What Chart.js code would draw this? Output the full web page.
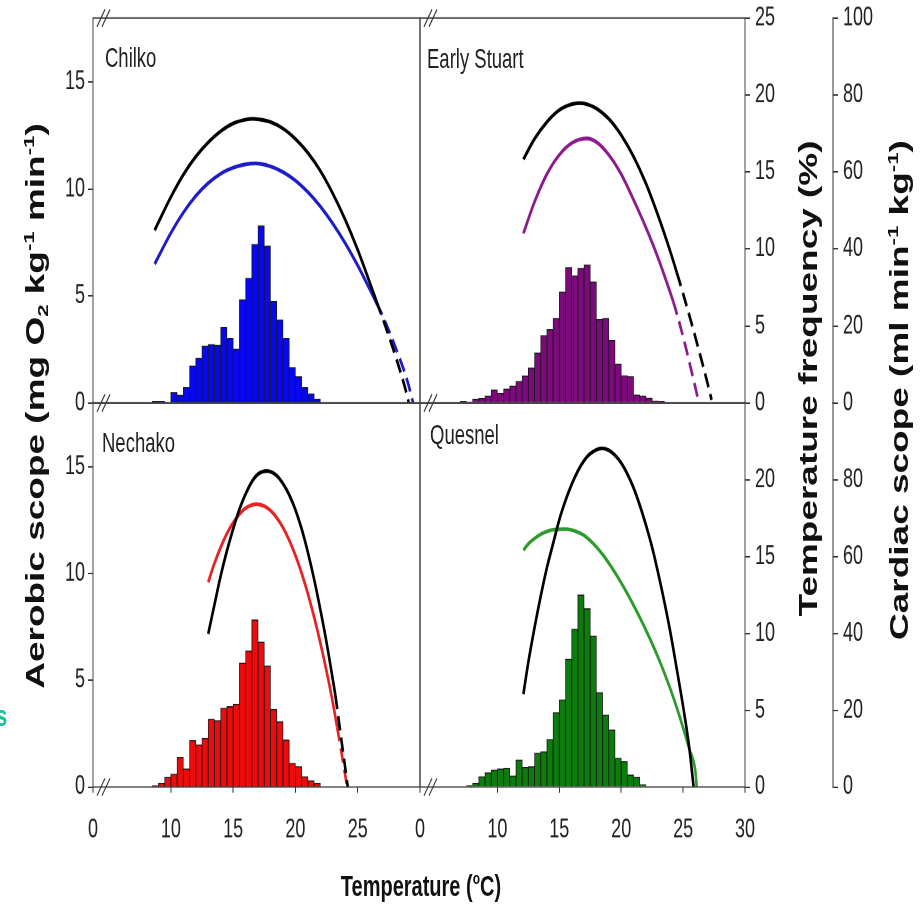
<!DOCTYPE html>
<html>
<head>
<meta charset="utf-8">
<title>Aerobic and cardiac scope vs temperature</title>
<script src="https://cdn.jsdelivr.net/npm/chart.js@4.4.1/dist/chart.umd.min.js"></script>
<style>
  html, body { margin: 0; padding: 0; background: #fff; overflow: hidden; }
  #page { position: relative; width: 924px; height: 910px; overflow: hidden; }
  /* the original figure is stretched vertically, so the whole drawing is too */
  #fig { position: absolute; left: 0; top: 0; width: 924px; height: 628px;
         transform-origin: 0 0; transform: scaleY(1.45);
         font-family: 'Liberation Sans', Arial, sans-serif; color: #111; }
  #fig canvas { position: absolute; }
  .panel-name { position: absolute; font-size: 18.5px; line-height: 1; white-space: nowrap; color: #222; }
  .axis-title { position: absolute; font-weight: bold; font-size: 25.5px; line-height: 1; white-space: nowrap;
                transform: translate(-50%, -50%) rotate(-90deg); }
  #xTitle { position: absolute; font-weight: bold; font-size: 20px; line-height: 1; white-space: nowrap;
            transform: translate(-50%, -50%); }
  sup, sub { font-size: 0.6em; line-height: 0; }
  sup { vertical-align: 0.7em; }
  sub { vertical-align: -0.25em; }
  #stray { position: absolute; left: -4px; top: 483px; font-weight: bold; font-size: 20px; color: #18c0a0; }
</style>
</head>
<body>
<div id="page">
  <div id="fig">
    <div class="panel-name" style="left:105px; top:31px">Chilko</div>
    <div class="panel-name" style="left:427px; top:32px">Early Stuart</div>
    <div class="panel-name" style="left:102px; top:297px">Nechako</div>
    <div class="panel-name" style="left:430px; top:291px">Quesnel</div>
    <div class="axis-title" style="left:36px; top:280px">Aerobic scope (mg O<sub>2</sub> kg<sup>-1</sup> min<sup>-1</sup>)</div>
    <div class="axis-title" style="left:809px; top:261px">Temperature frequency (%)</div>
    <div class="axis-title" style="left:900px; top:269px">Cardiac scope (ml min<sup>-1</sup> kg<sup>-1</sup>)</div>
    <div id="xTitle" style="left:421px; top:611px">Temperature (<sup>o</sup>C)</div>
    <div id="stray">s</div>
  </div>
</div>
<script>
const S = 1.45;

// temperature axis, broken between 0 and ~4 °C
const xMin = 3.75;
const xMax = 30;
const xBreakLabel = '0';
const xTicksLeft = [10, 15, 20, 25];
const xTicksRight = [10, 15, 20, 25, 30];
const aerobicTicks = [0, 5, 10, 15];
const freqTicksTop = [0, 5, 10, 15, 20, 25];
const freqTicksBottom = [0, 5, 10, 15, 20];
const cardiacTicksTop = [0, 20, 40, 60, 80, 100];
const cardiacTicksBottom = [0, 20, 40, 60, 80];

// Chilko
const chilkoBinT = [8.75, 9.25, 9.75, 10.25, 10.75, 11.25, 11.75, 12.25, 12.75, 13.25, 13.75, 14.25, 14.75, 15.25,
  15.75, 16.25, 16.75, 17.25, 17.75, 18.25, 18.75, 19.25, 19.75, 20.25, 20.75, 21.25, 21.75];
const chilkoFreq = [0.1, 0.1, 0, 0.67, 0.5, 1.0, 2.4, 2.9, 3.7, 3.8, 3.75, 4.9, 4.2, 3.5,
  6.7, 8.1, 10.3, 11.5, 10.2, 6.6, 5.4, 4.2, 2.3, 1.7, 1.0, 0.6, 0.25];
const chilkoAerT = [8.7, 10, 11, 12, 13, 14, 15, 16, 16.8, 18, 19, 20, 21, 22, 23, 24, 25, 26, 26.5, 27, 28, 29, 29.45];
const chilkoAer = [6.5, 7.95, 8.9, 9.68, 10.28, 10.72, 11.0, 11.16, 11.2, 11.06, 10.8, 10.4, 9.86, 9.19, 8.39, 7.47, 6.43, 5.28, 4.68, 4.07, 2.65, 1.0, 0];
const chilkoCarT = [8.7, 10, 11, 12, 13, 14, 15, 16, 16.6, 17, 18, 19, 20, 21, 22, 23, 24, 25, 26, 26.5, 27, 28, 29, 29.1];
const chilkoCar = [44.9, 53.5, 59.3, 64, 67.7, 70.6, 72.6, 73.6, 73.8, 73.7, 73.0, 71.3, 68.6, 65, 60.3, 54.4, 47.6, 39.8, 31, 26.5, 22, 12.5, 1.5, 0];

// Early Stuart
const stuartBinT = [7.25, 7.75, 8.25, 8.75, 9.25, 9.75, 10.25, 10.75, 11.25, 11.75, 12.25, 12.75, 13.25, 13.75, 14.25,
  14.75, 15.25, 15.75, 16.25, 16.75, 17.25, 17.75, 18.25, 18.75, 19.25, 19.75, 20.25, 20.75, 21.25, 21.75, 22.25,
  22.75, 23.25];
const stuartFreq = [0.1, 0.05, 0.24, 0.3, 0.46, 0.85, 0.63, 0.9, 1.1, 1.4, 1.76, 2.27, 3.25, 4.38, 4.77,
  5.49, 7.2, 8.8, 8.26, 8.74, 8.97, 7.86, 5.42, 5.49, 4.07, 2.53, 1.78, 1.72, 0.52, 0.46, 0.31, 0.13, 0.1];
const stuartAerT = [12.1, 13, 14, 15, 16, 17.2, 18, 19, 20, 21, 22, 23, 24, 24.2, 25, 26, 26.2];
const stuartAer = [7.93, 9.4, 10.7, 11.6, 12.15, 12.37, 12.2, 11.6, 10.7, 9.5, 8.2, 6.75, 5.1, 4.75, 3.1, 0.7, 0.2];
const stuartCarT = [12.1, 13, 14, 15, 16, 16.6, 17, 18, 19, 20, 21, 22, 23, 24, 24.5, 25, 26, 27, 27.3];
const stuartCar = [63.3, 68.6, 73, 76.1, 77.6, 77.9, 77.8, 76.5, 73.8, 69.6, 64, 57, 48.5, 39.0, 33.8, 28.4, 17.0, 4.8, 0.8];

// Nechako
const nechakoBinT = [8.75, 9.25, 9.75, 10.25, 10.75, 11.25, 11.75, 12.25, 12.75, 13.25, 13.75, 14.25, 14.75, 15.25,
  15.75, 16.25, 16.75, 17.25, 17.75, 18.25, 18.75, 19.25, 19.75, 20.25, 20.75, 21.25, 21.75];
const nechakoFreq = [0.07, 0.24, 0.63, 0.83, 1.93, 1.17, 3.02, 2.74, 3.17, 4.41, 4.32, 5.13, 5.23, 5.39,
  8.06, 8.86, 10.88, 9.43, 7.88, 5.06, 4.25, 3.06, 1.54, 1.32, 0.67, 0.41, 0.24];
const nechakoAerT = [13, 13.5, 14, 14.5, 15, 15.5, 16, 16.5, 16.9, 17.5, 18, 18.5, 19, 19.5, 20, 20.5, 21, 21.5, 22, 22.5, 23, 23.35, 23.7, 24.15];
const nechakoAer = [9.6, 10.49, 11.24, 11.88, 12.39, 12.79, 13.07, 13.22, 13.26, 13.17, 12.96, 12.62, 12.16, 11.57, 10.86, 10.02, 9.06, 7.97, 6.76, 5.42, 3.96, 2.8, 1.6, 0];
const nechakoCarT = [13, 13.5, 14, 14.5, 15, 15.5, 16, 16.5, 17, 17.7, 18.5, 19, 19.5, 20, 20.5, 21, 21.5, 22, 22.5, 23, 23.2, 23.6, 24.0, 24.2];
const nechakoCar = [39.9, 47.5, 55, 61.5, 67.2, 72.3, 76.3, 79.5, 81.5, 82.3, 81.1, 79, 76.1, 72.2, 67.2, 61.1, 54.1, 46.2, 37.6, 28.0, 24.0, 14.4, 4.9, 0];

// Quesnel
const quesnelBinT = [7.75, 8.25, 8.75, 9.25, 9.75, 10.25, 10.75, 11.25, 11.75, 12.25, 12.75, 13.25, 13.75, 14.25, 14.75,
  15.25, 15.75, 16.25, 16.75, 17.25, 17.75, 18.25, 18.75, 19.25, 19.75, 20.25, 20.75, 21.25, 21.75];
const quesnelFreq = [0.07, 0.24, 0.67, 0.93, 1.1, 1.17, 1.22, 0.72, 1.76, 1.28, 1.32, 2.2, 2.3, 3.1, 4.84,
  5.67, 8.32, 10.27, 12.5, 11.6, 9.84, 6.14, 4.69, 3.71, 1.87, 1.65, 0.78, 0.63, 0.13];
const quesnelAerT = [12.1, 12.5, 13, 13.5, 14, 14.5, 15.5, 16, 16.5, 17, 17.5, 18, 18.5, 19, 19.5, 20, 20.5, 21, 21.5, 22, 22.5, 23, 23.5, 24, 24.5, 25, 25.5, 26, 26.1];
const quesnelAer = [11.1, 11.4, 11.65, 11.85, 11.98, 12.06, 12.09, 12.05, 11.95, 11.8, 11.55, 11.25, 10.9, 10.5, 10.05, 9.57, 9.06, 8.52, 7.95, 7.35, 6.72, 6.05, 5.33, 4.55, 3.7, 2.78, 1.78, 0.7, 0];
const quesnelCarT = [12.1, 12.5, 13, 13.5, 14, 14.5, 15, 15.5, 16, 16.5, 17, 17.5, 18.44, 19, 19.5, 20, 20.5, 21, 21.5, 22, 22.5, 23, 23.5, 24, 24.5, 25, 25.5, 25.85];
const quesnelCar = [24.2, 32.5, 41.5, 49.7, 57.1, 63.4, 69.6, 74.6, 78.8, 82.3, 85, 86.8, 88.2, 87.7, 86.4, 84.4, 81.5, 77.9, 73.4, 68.2, 62.4, 55.5, 48, 39.8, 30.5, 21, 10.2, 0];

const panels = [
  { row: 'top', col: 'left', area: { l: 93, t: 18, r: 420, b: 403 },
    binT: chilkoBinT, freq: chilkoFreq, aerT: chilkoAerT, aer: chilkoAer, carT: chilkoCarT, car: chilkoCar,
    barColor: '#0707f2', lineColor: '#1c1cc8', aerDash: 26.5, carDash: 26.5 },
  { row: 'top', col: 'right', area: { l: 420, t: 18, r: 745, b: 403 },
    binT: stuartBinT, freq: stuartFreq, aerT: stuartAerT, aer: stuartAer, carT: stuartCarT, car: stuartCar,
    barColor: '#7d0a7d', lineColor: '#8c1a8c', aerDash: 24.2, carDash: 24.5 },
  { row: 'bottom', col: 'left', area: { l: 93, t: 403, r: 420, b: 787 },
    binT: nechakoBinT, freq: nechakoFreq, aerT: nechakoAerT, aer: nechakoAer, carT: nechakoCarT, car: nechakoCar,
    barColor: '#ee0b0b', lineColor: '#e82222', aerDash: 23.35, carDash: 23.2 },
  { row: 'bottom', col: 'right', area: { l: 420, t: 403, r: 745, b: 787 },
    binT: quesnelBinT, freq: quesnelFreq, aerT: quesnelAerT, aer: quesnelAer, carT: quesnelCarT, car: quesnelCar,
    barColor: '#0c7c0c', lineColor: '#2c9a2c', aerDash: null, carDash: null }
];

const tickFont = { family: "'Liberation Sans', Arial, sans-serif", size: 18 };
const tickGrid = { display: true, drawOnChartArea: false, drawTicks: true, tickLength: 5, color: '#333', offset: false };

const framePlugin = {
  id: 'frame',
  afterDatasetsDraw(chart, args, opts) {
    const { ctx, chartArea: a } = chart;
    ctx.save();
    ctx.strokeStyle = '#444';
    ctx.lineWidth = 1;
    ctx.strokeRect(a.left, a.top, a.right - a.left, a.bottom - a.top);
    // axis-break marks
    ctx.strokeStyle = '#333';
    const ys = opts.top ? [a.top, a.bottom] : [a.bottom];
    ys.forEach(y => {
      [a.left + 8, a.left + 13].forEach(x => {
        ctx.beginPath();
        ctx.moveTo(x - 4, y + 6);
        ctx.lineTo(x + 4, y - 6);
        ctx.stroke();
      });
    });
    ctx.restore();
  }
};

function pts(xs, ys) {
  return xs.map((x, i) => ({ x: x, y: ys[i] }));
}

function fixTicks(values) {
  return scale => { scale.ticks = values.map(v => ({ value: v })); };
}

// only visible axes get a fixed size, hidden ones stay at zero
function fixWidth(shown, w) {
  return scale => { if (shown) scale.width = w; };
}

function dashAfter(t) {
  return { borderDash: c => (t !== null && c.p0.parsed.x >= t - 1e-6) ? [10, 5] : undefined };
}

function build(p) {
  const top = p.row === 'top';
  const right = p.col === 'right';
  const aTop = p.area.t / S;
  const aBot = p.area.b / S;
  const cTop = top ? -12 : 252;
  const cH = top ? 310 : 334;
  const cLeft = right ? p.area.l - 25 : 0;
  const cW = right ? 924 - cLeft : p.area.r + 1;
  const under = cH - (aBot - cTop);

  const cv = document.createElement('canvas');
  cv.width = cW;
  cv.height = cH;
  cv.style.left = cLeft + 'px';
  cv.style.top = cTop + 'px';
  document.getElementById('fig').appendChild(cv);

  new Chart(cv, {
    type: 'bar',
    data: {
      datasets: [
        { type: 'line', data: pts(p.carT, p.car), yAxisID: 'yC', borderColor: '#000', borderWidth: 2.6,
          pointRadius: 0, cubicInterpolationMode: 'monotone', segment: dashAfter(p.carDash), order: 1 },
        { type: 'line', data: pts(p.aerT, p.aer), yAxisID: 'yA', borderColor: p.lineColor, borderWidth: 2.6,
          pointRadius: 0, cubicInterpolationMode: 'monotone', segment: dashAfter(p.aerDash), order: 2 },
        { type: 'bar', data: pts(p.binT, p.freq), yAxisID: 'yF', backgroundColor: p.barColor,
          borderColor: '#1a1a1a', borderWidth: 0.8, barPercentage: 1, categoryPercentage: 1, order: 3 }
      ]
    },
    options: {
      responsive: false,
      animation: false,
      devicePixelRatio: 2,
      events: [],
      layout: { padding: { top: aTop - cTop, bottom: top ? under : 0, left: right ? 25 : 0, right: right ? 0 : 1 } },
      plugins: { legend: { display: false }, tooltip: { enabled: false }, frame: { top: top } },
      scales: {
        x: {
          type: 'linear', min: xMin, max: xMax, offset: false, display: !top,
          afterBuildTicks: fixTicks([xMin].concat(right ? xTicksRight : xTicksLeft)),
          afterFit: s => { if (!top) s.height = under; },
          grid: Object.assign({}, tickGrid, { tickLength: 4 }),
          border: { display: false },
          ticks: { font: tickFont, color: '#222', padding: 15, maxRotation: 0, autoSkip: false,
                   callback: v => v === xMin ? xBreakLabel : String(v) }
        },
        yA: {
          position: 'left', display: !right, min: 0, max: 18,
          afterBuildTicks: fixTicks(aerobicTicks),
          afterFit: fixWidth(!right, p.area.l),
          grid: tickGrid, border: { display: false },
          ticks: { font: tickFont, color: '#222', padding: 3 }
        },
        yF: {
          position: 'right', display: right, min: 0, max: 25,
          afterBuildTicks: fixTicks(top ? freqTicksTop : freqTicksBottom),
          afterFit: fixWidth(right, 88),
          grid: tickGrid, border: { display: false },
          ticks: { font: tickFont, color: '#222', padding: 5 }
        },
        yC: {
          position: 'right', display: right, min: 0, max: 100,
          afterBuildTicks: fixTicks(top ? cardiacTicksTop : cardiacTicksBottom),
          afterFit: fixWidth(right, 91),
          grid: tickGrid, border: { display: true, color: '#333', width: 1 },
          ticks: { font: tickFont, color: '#222', padding: 5 }
        }
      }
    },
    plugins: [framePlugin]
  });
}

panels.forEach(build);
</script>
</body>
</html>
